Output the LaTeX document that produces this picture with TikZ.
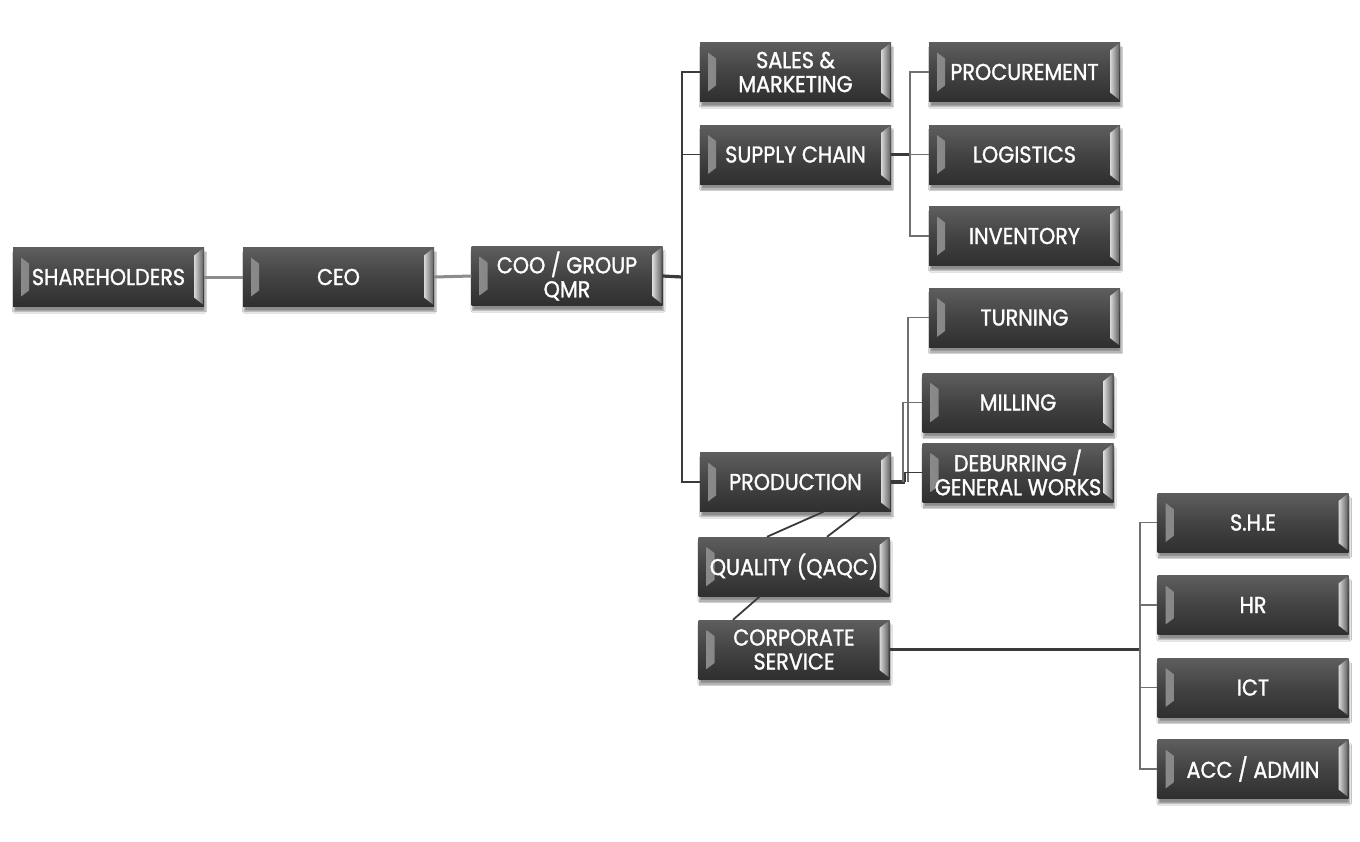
\documentclass[tikz,border=0pt]{standalone}
\usepackage{fontspec}
\newfontfamily\boxfont{Poppins}[FakeStretch=0.9,FakeBold=1.3]
\usetikzlibrary{shadows,shadows.blur,calc}
\definecolor{boxtop}{HTML}{5E5E5E}
\definecolor{boxmid}{HTML}{434343}
\definecolor{boxbot}{HTML}{2F2F2F}
\definecolor{lnA}{HTML}{8C8C8C}
\definecolor{lnD}{HTML}{3A3A3A}
\definecolor{lnG}{HTML}{707070}
\tikzset{
  orgbox/.style={rectangle, minimum width=191pt, minimum height=59pt, inner sep=0pt,
    top color=boxtop, bottom color=boxbot, middle color=boxmid,
    blur shadow={shadow xshift=1pt, shadow yshift=-5pt, shadow blur steps=6, shadow opacity=45},
    text=white, align=center, font=\boxfont\fontsize{23}{24}\selectfont,
    path picture={
      \shade[left color=black!45, right color=black!72]
        ([shift={(8pt,-10pt)}]path picture bounding box.north west) --
        ([shift={(16pt,-16pt)}]path picture bounding box.north west) --
        ([shift={(16pt,16pt)}]path picture bounding box.south west) --
        ([shift={(8pt,10pt)}]path picture bounding box.south west) -- cycle;
      \shade[left color=black!15, right color=black!60]
        ([shift={(-10pt,-8pt)}]path picture bounding box.north east) --
        ([shift={(-1pt,-1pt)}]path picture bounding box.north east) --
        ([shift={(-1pt,2pt)}]path picture bounding box.south east) --
        ([shift={(-10pt,9pt)}]path picture bounding box.south east) -- cycle;
    }},
  lightline/.style={draw=lnA, line width=3pt},
  darkline/.style={draw=lnD, line width=1.8pt},
  darkthick/.style={draw=lnD, line width=3.2pt},
  grayline/.style={draw=lnG, line width=1.8pt}
}
\begin{document}
\begin{tikzpicture}[x=1pt,y=-1pt]
\fill[white] (0,0) rectangle (1360,841);
\useasboundingbox (0,0) rectangle (1360,841);

\coordinate (bA) at (682,277);
\coordinate (bB) at (910,154.5);
\coordinate (bC) at (905,482);
\coordinate (bD) at (1140,649.5);

\node[orgbox] (sh) at (108.5,277) {SHAREHOLDERS};
\node[orgbox] (ceo) at (338.5,277) {CEO};
\node[orgbox] (coo) at (567,276) {COO / GROUP\\QMR};
\node[orgbox] (sm) at (795.5,72) {SALES \&\\MARKETING};
\node[orgbox] (sc) at (795.5,154.5) {SUPPLY CHAIN};
\node[orgbox] (prod) at (795.5,482) {PRODUCTION};
\node[orgbox] (qa) at (794,566.5) {QUALITY (QAQC)};
\node[orgbox] (cs) at (794,649.5) {CORPORATE\\SERVICE};
\node[orgbox] (proc) at (1024.5,72) {PROCUREMENT};
\node[orgbox] (log) at (1024.5,154.5) {LOGISTICS};
\node[orgbox] (inv) at (1024.5,236) {INVENTORY};
\node[orgbox] (turn) at (1024.5,317.5) {TURNING};
\node[orgbox] (mill) at (1018,402.5) {MILLING};
\node[orgbox] (deb) at (1018,472.5) {DEBURRING /\\GENERAL WORKS};
\node[orgbox] (she) at (1253,522.5) {S.H.E};
\node[orgbox] (hr) at (1253,605) {HR};
\node[orgbox] (ict) at (1253,687.5) {ICT};
\node[orgbox] (acc) at (1253,769) {ACC / ADMIN};

\draw[lightline] (sh.east) -- (ceo.west);
\draw[lightline] (ceo.east) -- (coo.west);
\draw[darkthick] (coo.east) -- (bA);
\draw[darkline] (sm.west) -| (bA);
\draw[darkline] (sc.west) -| (bA);
\draw[darkline] (prod.west) -| (bA);

\draw[darkthick] (sc.east) -- (bB);
\draw[grayline] (proc.west) -| (bB);
\draw[grayline] (log.west) -- (bB);
\draw[grayline] (inv.west) -| (bB);

\draw[darkthick] (prod.east) -- (bC);
\draw[grayline] (turn.west) -| ([xshift=3pt]bC);
\draw[grayline] (mill.west) -| ([xshift=-2pt]bC);
\draw[darkline] (deb.west) -| (bC);

\draw[darkline] ([xshift=28pt]prod.south) -- ([xshift=-27pt]qa.north);
\draw[darkline] ([xshift=64.5pt]prod.south) -- ([xshift=33pt]qa.north);
\draw[darkline] ([xshift=-34pt]qa.south) -- ([xshift=-61pt]cs.north);

\draw[darkthick] (cs.east) -- (bD);
\draw[grayline] (she.west) -| (bD);
\draw[grayline] (hr.west) -| (bD);
\draw[grayline] (ict.west) -| (bD);
\draw[grayline] (acc.west) -| (bD);
\end{tikzpicture}
\end{document}
